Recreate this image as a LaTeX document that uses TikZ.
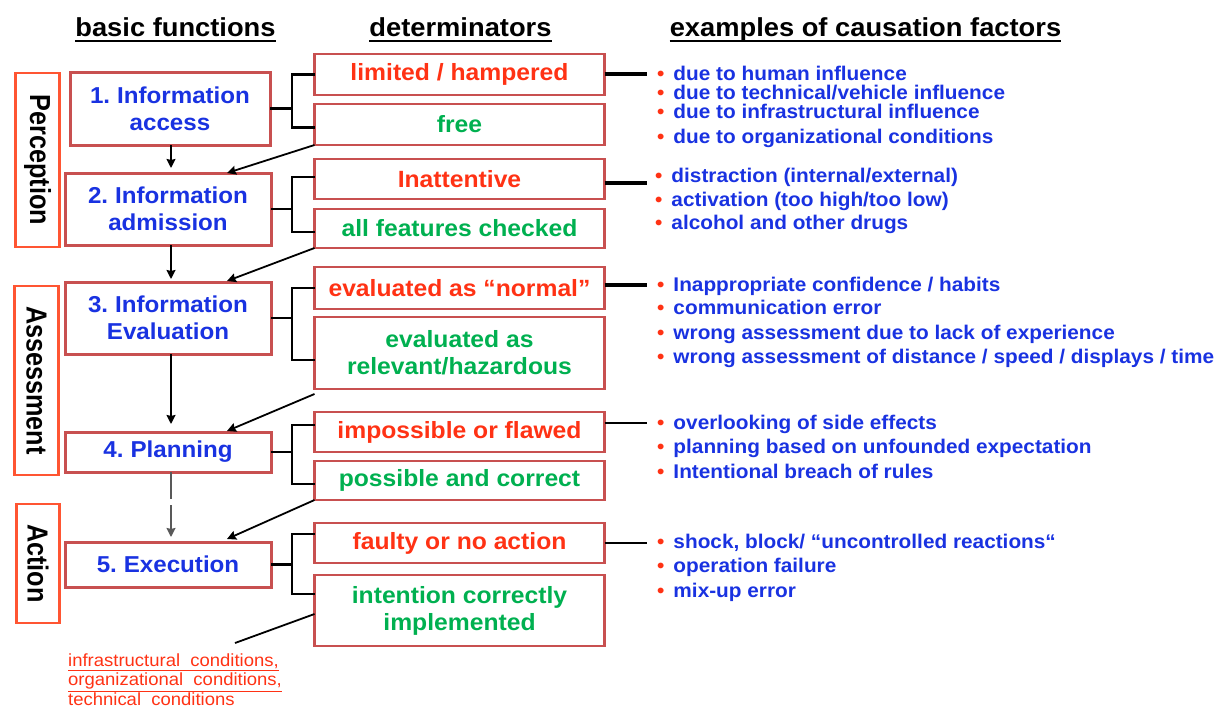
\documentclass[tikz,border=0pt]{standalone}
\usepackage{fontspec}
\setmainfont{Liberation Sans}[FakeStretch=1.05]
\newfontfamily\sidefont{Liberation Sans}[FakeStretch=0.87]
\usetikzlibrary{arrows.meta,calc}
\definecolor{boxred}{RGB}{200,80,80}
\definecolor{sidered}{RGB}{255,85,50}
\definecolor{bluetext}{RGB}{25,50,225}
\definecolor{redtext}{RGB}{255,50,20}
\definecolor{greentext}{RGB}{0,176,80}
\begin{document}
\begin{tikzpicture}[x=1pt,y=-1pt,
  fbox/.style={draw=boxred,line width=3pt,fill=white,inner sep=0pt,outer sep=0pt,
    text=bluetext,font=\bfseries\fontsize{23}{27}\selectfont,align=center},
  dbox/.style={draw=boxred,line width=2.5pt,inner sep=0pt,outer sep=0pt,
    font=\bfseries\fontsize{23.5}{27}\selectfont,align=center,minimum width=290pt},
  badtxt/.style={text=redtext},
  goodtxt/.style={text=greentext},
  sidebox/.style={draw=sidered,line width=2.2pt,inner sep=0pt,outer sep=0pt,rotate=-90,
    font=\sidefont\bfseries\fontsize{29}{30}\selectfont,text=black},
  hdr/.style={inner sep=0pt,anchor=base,font=\bfseries\fontsize{26}{28}\selectfont},
  item/.style={anchor=west,inner sep=0pt,text=bluetext,
    font=\bfseries\fontsize{19.8}{20}\selectfont,text height=0.72em,text depth=0.2em},
  brk/.style={line width=2.5pt,black},
  rline/.style={line width=3.5pt,black},
  rlinethin/.style={line width=2pt,black},
  down/.style={line width=1.8pt,black,-{Stealth[length=9pt,width=9pt,inset=1pt]}},
  diag/.style={line width=1.8pt,black,-{Stealth[length=9pt,width=9pt,inset=1pt]}}
]
\useasboundingbox (0,0) rectangle (1217,707);

% headers
\node[hdr] (h1) at (175.5,36) {basic functions};
\node[hdr] (h2) at (460.5,36) {determinators};
\node[hdr] (h3) at (865.5,36) {examples of causation factors};
\foreach \h in {h1,h2,h3}{
  \draw[line width=2pt] ($(\h.base west)+(0,5)$) -- ($(\h.base east)+(0,5)$);
}

% side labels
\node[sidebox,minimum width=174pt,minimum height=44pt] (perc) at (37.5,160) {Perception};
\node[sidebox,minimum width=189pt,minimum height=44pt] (asse) at (36.5,380.5) {Assessment};
\node[sidebox,minimum width=119pt,minimum height=43pt] (acti) at (38,563.5) {Action};

% basic functions
\node[fbox,minimum width=200pt,minimum height=73pt] (b1) at (170,108.5) {1.\hspace{-2pt} Information\\access};
\node[fbox,minimum width=206pt,minimum height=72pt] (b2) at (168,209) {2.\hspace{-2pt} Information\\admission};
\node[fbox,minimum width=206pt,minimum height=72pt] (b3) at (168,318) {3.\hspace{-2pt} Information\\Evaluation};
\node[fbox,minimum width=206pt,minimum height=40pt] (b4) at (168,452) {4.\hspace{-2pt} Planning};
\node[fbox,minimum width=206pt,minimum height=45pt] (b5) at (168,564.5) {5.\hspace{-2pt} Execution};

% determinators
\node[dbox,badtxt,minimum height=41pt] (d1a) at (459.5,74.5) {limited / hampered};
\node[dbox,goodtxt,minimum height=41pt] (d1b) at (459.5,124.5) {free};
\node[dbox,badtxt,minimum height=40pt] (d2a) at (459.5,179) {Inattentive};
\node[dbox,goodtxt,minimum height=39pt] (d2b) at (459.5,228.5) {all features checked};
\node[dbox,badtxt,minimum height=42pt] (d3a) at (459.5,288) {evaluated as “normal”};
\node[dbox,goodtxt,minimum height=72pt] (d3b) at (459.5,353) {evaluated as\\relevant/hazardous};
\node[dbox,badtxt,minimum height=40pt] (d4a) at (459.5,432) {impossible or flawed};
\node[dbox,goodtxt,minimum height=39pt] (d4b) at (459.5,480.5) {possible and correct};
\node[dbox,badtxt,minimum height=40pt] (d5a) at (459.5,543) {faulty or no action};
\node[dbox,goodtxt,minimum height=71pt] (d5b) at (459.5,610.5) {intention correctly\\implemented};

% brackets
\coordinate (bx) at (292,0);
\draw[brk] (b1.east) -- (b1.east -| bx);
\draw[brk] (d1a.west) -| ($(bx |- d1b.west)+(0,3)$) -- ($(d1b.west)+(0,3)$);
\draw[brk] (b2.east) -- (b2.east -| bx);
\draw[brk] ($(d2a.west)+(0,-2)$) -| ($(bx |- d2b.west)+(0,3.5)$) -- ($(d2b.west)+(0,3.5)$);
\draw[brk] (b3.east) -- (b3.east -| bx);
\draw[brk] (d3a.west) -| ($(bx |- d3b.west)+(0,7)$) -- ($(d3b.west)+(0,7)$);
\draw[brk] (b4.east) -- (b4.east -| bx);
\draw[brk] ($(d4a.west)+(0,-7)$) -| ($(bx |- d4b.west)+(0,3.5)$) -- ($(d4b.west)+(0,3.5)$);
\draw[brk] (b5.east) -- (b5.east -| bx);
\draw[brk] ($(d5a.west)+(0,-9)$) -| ($(bx |- d5b.west)+(0,-16.5)$) -- ($(d5b.west)+(0,-16.5)$);

% down arrows
\coordinate (ax) at (171,0);
\draw[down,shorten >=5pt] (b1.south -| ax) -- (b2.north -| ax);
\draw[down,shorten >=3pt] (b2.south -| ax) -- (b3.north -| ax);
\draw[down,shorten >=8pt] (b3.south -| ax) -- (b4.north -| ax);
\draw[down,shorten >=5pt,draw=black!65,dash pattern=on 27pt off 6pt on 60pt] (b4.south -| ax) -- (b5.north -| ax);

% diagonal arrows
\draw[diag] (d1b.south west) -- ($(b2.north)+(59,0)$);
\draw[diag] (d2b.south west) -- ($(b3.north)+(59,-1)$);
\draw[diag] ($(d3b.south west)+(0,5)$) -- ($(b4.north)+(59,-1)$);
\draw[diag] (d4b.south west) -- ($(b5.north)+(59,-3)$);
\coordinate (cend) at (235,643);
\draw[line width=1.8pt] ($(d5b.north west)+(0,39)$) -- (cend);

% conditions text
\node[anchor=north west,inner sep=0pt,text=redtext,align=left,
  font=\fontsize{17.6}{19.5}\selectfont] (cond) at (68,653.5)
  {\underline{infrastructural\ \ conditions,}\\\underline{organizational\ \ conditions,}\\technical\ \ conditions};

% right connectors
\coordinate (r1) at (647,74);
\coordinate (r2) at (647,183);
\coordinate (r3) at (647,285);
\coordinate (r4) at (647,423);
\coordinate (r5) at (647,543);
\draw[rline] (d1a.east |- r1) -- (r1);
\draw[rline] (d2a.east |- r2) -- (r2);
\draw[rline] (d3a.east |- r3) -- (r3);
\draw[rlinethin] (d4a.east |- r4) -- (r4);
\draw[rlinethin] (d5a.east |- r5) -- (r5);

% examples
\newcommand{\bul}{\textcolor{redtext}{•}\hspace{9pt}}
\node[item] (e11) at (657,78) {\bul due to human influence};
\node[item] (e12) at (657,97) {\bul due to technical/vehicle influence};
\node[item] (e13) at (657,116) {\bul due to infrastructural influence};
\node[item] (e14) at (657,141) {\bul due to organizational conditions};
\node[item] (e21) at (655,180) {\bul distraction (internal/external)};
\node[item] (e22) at (655,204) {\bul activation (too high/too low)};
\node[item] (e23) at (655,227) {\bul alcohol and other drugs};
\node[item] (e31) at (657,289) {\bul Inappropriate confidence / habits};
\node[item] (e32) at (657,312) {\bul communication error};
\node[item] (e33) at (657,337) {\bul wrong assessment due to lack of experience};
\node[item] (e34) at (657,361) {\bul wrong assessment of distance / speed / displays / time};
\node[item] (e41) at (657,427) {\bul overlooking of side effects};
\node[item] (e42) at (657,451) {\bul planning based on unfounded expectation};
\node[item] (e43) at (657,476) {\bul Intentional breach of rules};
\node[item] (e51) at (657,546) {\bul shock, block/ “uncontrolled reactions“};
\node[item] (e52) at (657,570) {\bul operation failure};
\node[item] (e53) at (657,595) {\bul mix-up error};
\end{tikzpicture}
\end{document}
